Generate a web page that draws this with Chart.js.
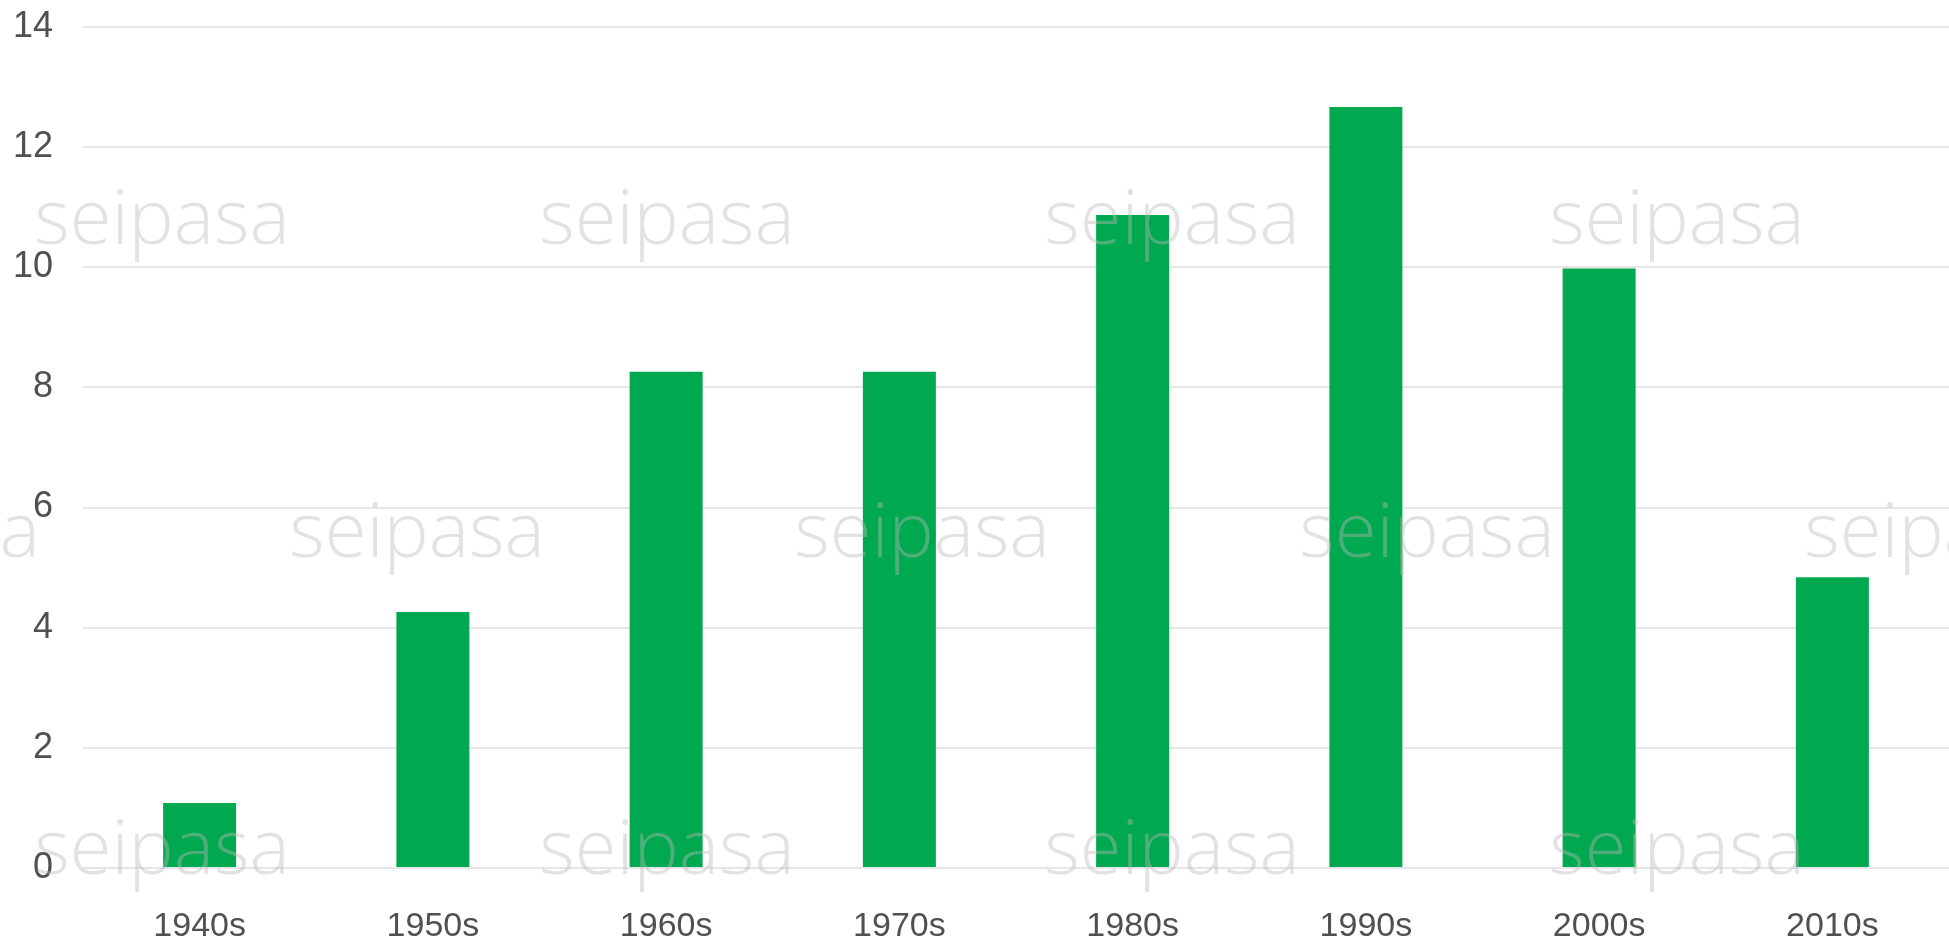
<!DOCTYPE html>
<html>
<head>
<meta charset="utf-8">
<script src="https://cdn.jsdelivr.net/npm/chart.js@4/dist/chart.umd.min.js"></script>
<style>
  html, body { margin:0; padding:0; background:#fff; overflow:hidden; }
  #wrap { width:1949px; height:980px; position:relative; }
</style>
</head>
<body>
<div id="wrap"><canvas id="chart"></canvas></div>
<script>
const decades = ["1940s","1950s","1960s","1970s","1980s","1990s","2000s","2010s"];
const values  = [1.08, 4.26, 8.26, 8.26, 10.87, 12.67, 9.98, 4.84];
const yTicks  = [0, 2, 4, 6, 8, 10, 12, 14];

const el = (id) => document.getElementById(id);

// pin the plot top so the 14 gridline sits near the canvas edge
const pinTop = {
  id: "pinTop",
  afterLayout(chart){
    const y = chart.scales.y;
    y.top = 27;
    y.height = y.bottom - y.top;
    chart.chartArea.top = 27;
    chart.chartArea.height = chart.chartArea.bottom - 27;
    y.configure();
  }
};

// faint "seipasa" watermark, drawn over the bars like in the source
const watermark = {
  id: "watermark",
  afterDatasetsDraw(chart){
    const ctx = chart.ctx;
    ctx.save();
    ctx.fillStyle = "rgba(185,185,185,0.42)";
    ctx.font = "300 76px 'Open Sans', 'Liberation Sans', sans-serif";
    ctx.textAlign = "center";
    ctx.textBaseline = "middle";
    const rows = [
      { y: 222, xs: [162, 667, 1172, 1677] },
      { y: 535, xs: [-88, 417, 922, 1427, 1932] },
      { y: 852, xs: [162, 667, 1172, 1677] },
    ];
    for(const r of rows){
      for(const x of r.xs) ctx.fillText("seipasa", x, r.y);
    }
    ctx.restore();
  }
};

new Chart(el("chart").getContext("2d"), {
  type: "bar",
  data: {
    labels: decades,
    datasets: [{
      data: values,
      backgroundColor: "#00a84f",
      categoryPercentage: 1,
      barPercentage: 0.313
    }]
  },
  options: {
    responsive: true,
    maintainAspectRatio: false,
    animation: false,
    layout: { padding: { top: 27, right: 0, left: 0, bottom: 0 } },
    plugins: { legend: { display: false }, tooltip: { enabled: false } },
    scales: {
      x: {
        grid: { display: false },
        border: { display: false },
        ticks: {
          color: "#505050",
          font: { family: "'Liberation Sans', Arial, sans-serif", size: 34 },
          padding: 30
        },
        afterFit(s){ s.height = 980 - 868; }
      },
      y: {
        min: 0, max: 14,
        afterBuildTicks(s){ s.ticks = yTicks.map(v => ({ value: v })); },
        grid: { color: "#e6e6e6", lineWidth: 2, drawTicks: false },
        border: { display: false },
        ticks: {
          color: "#505050",
          font: { family: "'Liberation Sans', Arial, sans-serif", size: 36, lineHeight: 0.4 },
          padding: 30
        },
        afterFit(s){ s.width = 83; }
      }
    }
  },
  plugins: [pinTop, watermark]
});
</script>
</body>
</html>
